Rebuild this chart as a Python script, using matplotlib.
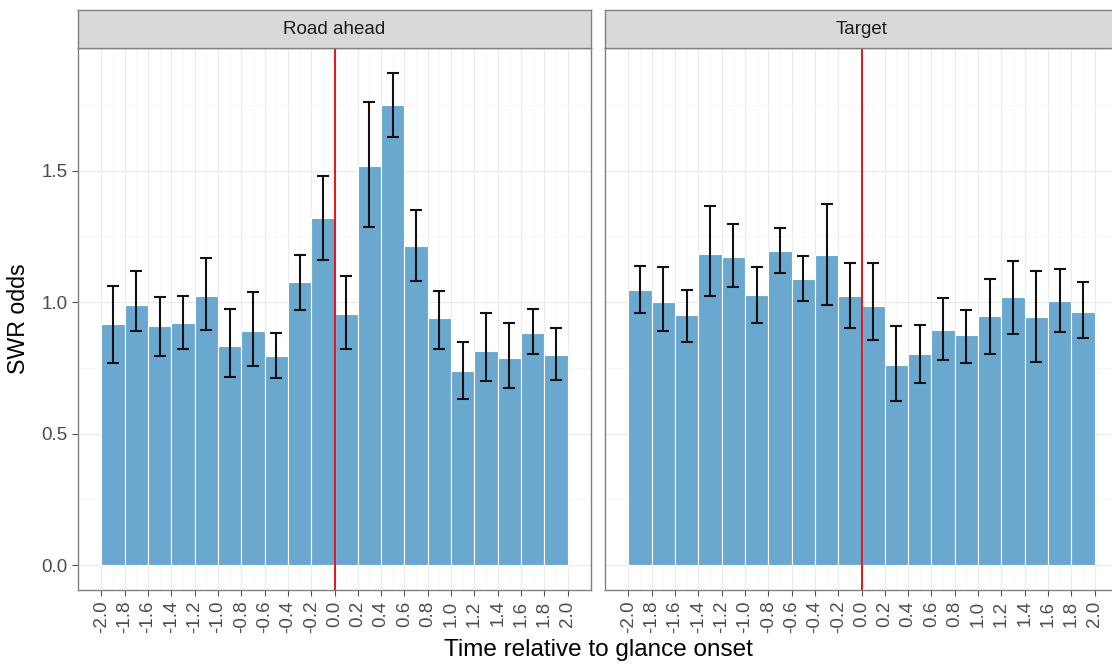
import matplotlib
matplotlib.use("Agg")
import matplotlib.pyplot as plt
import numpy as np

plt.rcParams['font.family'] = ['Liberation Sans', 'DejaVu Sans']

# bar centres (time relative to glance onset, s)
time_bins = [-1.9, -1.7, -1.5, -1.3, -1.1, -0.9, -0.7, -0.5, -0.3, -0.1,
             0.1, 0.3, 0.5, 0.7, 0.9, 1.1, 1.3, 1.5, 1.7, 1.9]

road_odds = [0.916, 0.988, 0.910, 0.922, 1.023, 0.834, 0.891, 0.796, 1.075, 1.318,
             0.954, 1.518, 1.750, 1.214, 0.938, 0.738, 0.815, 0.787, 0.883, 0.799]
road_hi = [1.062, 1.117, 1.019, 1.024, 1.169, 0.973, 1.040, 0.884, 1.180, 1.481,
           1.100, 1.759, 1.872, 1.351, 1.043, 0.850, 0.959, 0.920, 0.974, 0.902]
road_lo = [0.770, 0.891, 0.797, 0.823, 0.893, 0.717, 0.758, 0.712, 0.970, 1.160,
           0.822, 1.284, 1.627, 1.081, 0.821, 0.633, 0.700, 0.672, 0.804, 0.703]

target_odds = [1.047, 1.000, 0.952, 1.183, 1.172, 1.028, 1.193, 1.088, 1.181, 1.024,
               0.985, 0.763, 0.802, 0.895, 0.874, 0.948, 1.018, 0.945, 1.005, 0.964]
target_hi = [1.136, 1.133, 1.046, 1.365, 1.297, 1.134, 1.280, 1.176, 1.372, 1.147,
             1.148, 0.910, 0.915, 1.015, 0.972, 1.088, 1.158, 1.119, 1.127, 1.076]
target_lo = [0.957, 0.889, 0.850, 1.024, 1.059, 0.922, 1.109, 1.005, 0.989, 0.900,
             0.855, 0.624, 0.694, 0.780, 0.769, 0.802, 0.878, 0.773, 0.886, 0.864]

x_ticks = [-2.0, -1.8, -1.6, -1.4, -1.2, -1.0, -0.8, -0.6, -0.4, -0.2, 0.0,
           0.2, 0.4, 0.6, 0.8, 1.0, 1.2, 1.4, 1.6, 1.8, 2.0]
y_ticks = [0.0, 0.5, 1.0, 1.5]

panels = [("Road ahead", road_odds, road_lo, road_hi),
          ("Target", target_odds, target_lo, target_hi)]

fig = plt.figure(figsize=(11.12, 6.66), dpi=100)
W, H = 1112, 666
ax_left = [78, 605]
ax_w = 513
ax_top, ax_bot = 48, 590

for i, (name, odds, lo, hi) in enumerate(panels):
    ax = fig.add_axes([ax_left[i] / W, (H - ax_bot) / H, ax_w / W, (ax_bot - ax_top) / H])
    ax.set_facecolor("white")
    ax.set_xlim(-2.2, 2.2)
    ax.set_ylim(-0.094, 1.966)

    # gridlines like theme_bw
    ax.set_xticks(x_ticks)
    ax.set_xticks(time_bins, minor=True)
    ax.set_yticks(y_ticks)
    ax.set_yticks([0.25, 0.75, 1.25, 1.75], minor=True)
    ax.grid(which="major", color="#ebebeb", linewidth=0.9)
    ax.grid(which="minor", color="#f4f4f4", linewidth=0.5)
    ax.set_axisbelow(True)

    yerr = [np.array(odds) - np.array(lo), np.array(hi) - np.array(odds)]
    ax.bar(time_bins, odds, width=0.2, color="#6aa8cf", edgecolor="white",
           linewidth=0.8, zorder=2)
    ax.errorbar(time_bins, odds, yerr=yerr, fmt="none", ecolor="#111111",
                elinewidth=1.5, capsize=4.3, capthick=1.5, zorder=3)
    ax.axvline(0, color="#ee1111", linewidth=1.4, zorder=4)

    for s in ax.spines.values():
        s.set_color("#808080")
        s.set_linewidth(1.0)

    ax.tick_params(axis="both", which="major", length=4, color="#555555",
                   labelcolor="#4d4d4d", labelsize=13.5)
    ax.tick_params(which="minor", length=0)
    ax.set_xticklabels([f"{v:.1f}" for v in x_ticks], rotation=90)
    if i == 0:
        ax.set_yticklabels([f"{v:.1f}" for v in y_ticks])
        ax.set_ylabel("SWR odds", fontsize=16.7, labelpad=8)
    else:
        ax.set_yticklabels([])
        ax.tick_params(axis="y", length=0)

    # facet strip
    strip = fig.add_axes([ax_left[i] / W, (H - ax_top) / H, ax_w / W, 38 / H])
    strip.set_xticks([])
    strip.set_yticks([])
    strip.set_facecolor("#d9d9d9")
    for s in strip.spines.values():
        s.set_color("#808080")
        s.set_linewidth(1.0)
    strip.text(0.5, 0.5, name, ha="center", va="center", fontsize=13.5,
               color="#1a1a1a", transform=strip.transAxes)

fig.text(0.538, 0.024, "Time relative to glance onset", ha="center", va="center",
         fontsize=17.5, color="black")

fig.savefig("out.png", dpi=100)
